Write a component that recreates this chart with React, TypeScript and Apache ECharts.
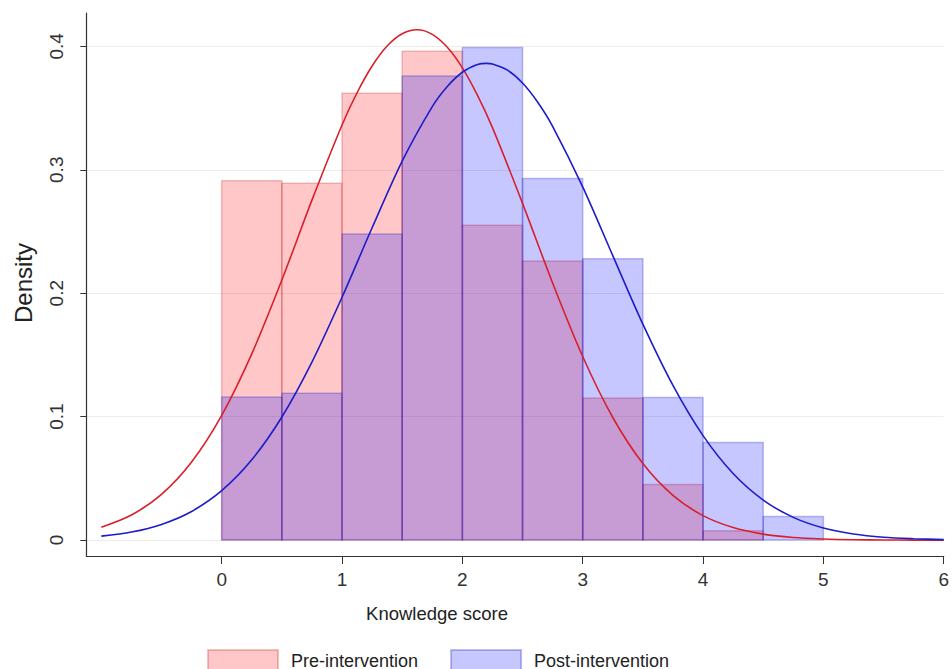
import React, { useEffect, useRef } from "react";
import * as echarts from "echarts";

// Histogram bin edges (width 0.5) and densities
const binEdges = [0, 0.5, 1, 1.5, 2, 2.5, 3, 3.5, 4, 4.5, 5];
const preDensity = [0.291, 0.289, 0.362, 0.396, 0.255, 0.226, 0.115, 0.045, 0.0075];
const postDensity = [0.116, 0.119, 0.248, 0.376, 0.399, 0.293, 0.228, 0.1155, 0.079, 0.019];

// Normal-curve overlays (denser near the peaks)
const preCurveX = [-1, -0.75, -0.5, -0.25, 0, 0.25, 0.5, 0.75, 1, 1.125, 1.25, 1.375, 1.5, 1.625, 1.75, 1.875, 2, 2.125, 2.25, 2.5, 2.75, 3, 3.25, 3.5, 3.75, 4, 4.25, 4.5, 4.75, 5, 5.25, 5.5, 5.75, 6];
const preCurve = [0.0104, 0.0203, 0.037, 0.0632, 0.101, 0.1509, 0.2107, 0.2754, 0.3363, 0.3624, 0.3841, 0.4003, 0.4102, 0.4134, 0.4097, 0.3992, 0.3826, 0.3605, 0.3341, 0.2728, 0.2083, 0.1487, 0.0993, 0.062, 0.0362, 0.0198, 0.0101, 0.0048, 0.0021, 0.0009, 0.0003, 0.0001, 0.0, 0.0];
const postCurveX = [-1, -0.75, -0.5, -0.25, 0, 0.25, 0.5, 0.75, 1, 1.25, 1.5, 1.75, 1.875, 2, 2.125, 2.2, 2.25, 2.375, 2.5, 2.625, 2.75, 3, 3.25, 3.5, 3.75, 4, 4.25, 4.5, 4.75, 5, 5.25, 5.5, 5.75, 6];
const postCurve = [0.0032, 0.0065, 0.0127, 0.0232, 0.04, 0.065, 0.0997, 0.1442, 0.1967, 0.253, 0.307, 0.3512, 0.3675, 0.379, 0.3852, 0.3862, 0.3857, 0.3807, 0.3703, 0.3549, 0.3352, 0.2861, 0.2304, 0.1749, 0.1253, 0.0846, 0.0539, 0.0324, 0.0184, 0.0098, 0.0049, 0.0023, 0.0011, 0.0004];

const xTicks = [0, 1, 2, 3, 4, 5, 6];
const yTicks = [0, 0.1, 0.2, 0.3, 0.4];
const seriesNames = ["Pre-intervention", "Post-intervention"];

const FONT = "'Liberation Sans', Arial, Helvetica, sans-serif";

export default function App() {
  const ref = useRef<HTMLDivElement>(null);

  useEffect(() => {
    if (!ref.current) return;
    const chart = echarts.init(ref.current, undefined, { renderer: "svg" });

    const histData = (dens: number[]) =>
      dens.map((d, i) => [binEdges[i], binEdges[i + 1], d]);

    const makeHist = (name: string, dens: number[], fill: string, stroke: string) => ({
      name,
      type: "custom",
      data: histData(dens),
      encode: { x: [0, 1], y: 2 },
      itemStyle: { color: fill, borderColor: stroke, borderWidth: 1.5 },
      renderItem: (params: any, api: any) => {
        const p0 = api.coord([api.value(0), 0]);
        const p1 = api.coord([api.value(1), api.value(2)]);
        return {
          type: "rect",
          shape: { x: p0[0], y: p1[1], width: p1[0] - p0[0], height: p0[1] - p1[1] },
          style: { fill, stroke, lineWidth: 1.5 },
        };
      },
      z: 2,
    });

    chart.setOption({
      animation: false,
      backgroundColor: "#ffffff",
      grid: { left: 86.3, right: 2, top: 13, bottom: 113, containLabel: false },
      xAxis: {
        type: "value",
        min: -1.125,
        max: 6,
        axisLine: { show: true, onZero: false, lineStyle: { color: "#333", width: 1.2 } },
        axisTick: { show: true, length: 8, lineStyle: { color: "#333" }, customValues: xTicks },
        axisLabel: {
          customValues: xTicks,
          margin: 14,
          fontSize: 19,
          fontFamily: FONT,
          color: "#333",
          showMaxLabel: true,
          showMinLabel: true,
        },
        splitLine: { show: false },
      },
      yAxis: {
        type: "value",
        min: -0.0129,
        max: 0.427,
        axisLine: { show: true, onZero: false, lineStyle: { color: "#333", width: 1.2 } },
        axisTick: { show: true, length: 6, lineStyle: { color: "#333" }, customValues: yTicks },
        axisLabel: {
          customValues: yTicks,
          rotate: 90,
          margin: 20,
          fontSize: 19,
          fontFamily: FONT,
          color: "#333",
          formatter: (v: number) => (v === 0 ? "0" : v.toFixed(1)),
        },
        splitLine: { show: true, lineStyle: { color: "#ececec", width: 1 } },
      },
      legend: {
        data: seriesNames,
        left: 202,
        top: 644,
        icon: "rect",
        itemWidth: 70,
        itemHeight: 21,
        itemGap: 32,
        textStyle: { fontSize: 18, fontFamily: FONT, color: "#222", padding: [0, 0, 0, 8] },
      },
      graphic: [
        {
          type: "text",
          x: 437,
          y: 613,
          style: {
            text: "Knowledge score",
            fontSize: 18.5,
            fontFamily: FONT,
            fill: "#222",
            textAlign: "center",
            textVerticalAlign: "middle",
          },
        },
        {
          type: "text",
          x: 23,
          y: 283,
          rotation: Math.PI / 2,
          style: {
            text: "Density",
            fontSize: 24,
            fontFamily: FONT,
            fill: "#222",
            textAlign: "center",
            textVerticalAlign: "middle",
          },
        },
      ],
      series: [
        makeHist(seriesNames[0], preDensity, "rgba(255,0,0,0.22)", "rgba(200,40,40,0.28)"),
        makeHist(seriesNames[1], postDensity, "rgba(0,0,255,0.22)", "rgba(40,40,200,0.3)"),
        {
          name: "preCurve",
          type: "line",
          data: preCurveX.map((x, i) => [x, preCurve[i]]),
          smooth: 0.3,
          showSymbol: false,
          lineStyle: { color: "#d8202c", width: 1.6 },
          z: 5,
        },
        {
          name: "postCurve",
          type: "line",
          data: postCurveX.map((x, i) => [x, postCurve[i]]),
          smooth: 0.3,
          showSymbol: false,
          lineStyle: { color: "#1c1cc8", width: 1.6 },
          z: 5,
        },
      ],
    });

    return () => chart.dispose();
  }, []);

  return (
    <div
      ref={ref}
      style={{ position: "fixed", left: 0, top: 0, width: 952, height: 669, background: "#fff" }}
    />
  );
}
